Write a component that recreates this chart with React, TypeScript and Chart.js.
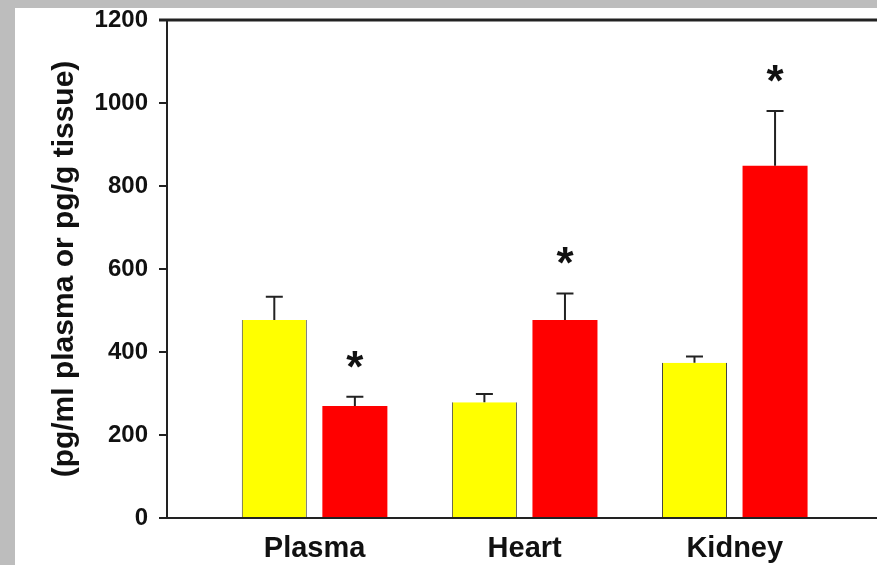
import React, { useEffect, useRef } from "react";
import { Chart, registerables } from "chart.js";

Chart.register(...registerables);

const categories = ["Plasma", "Heart", "Kidney"];
const controlValues = [477, 279, 374];
const controlErrors = [56, 20, 15];
const treatedValues = [270, 477, 849];
const treatedErrors = [22, 64, 132];
const significant = [true, true, true];
const yTitle = "(pg/ml plasma or pg/g tissue)";
const yMin = 0;
const yMax = 1200;
const yStep = 200;

const FONT = "'Liberation Sans', Arial, sans-serif";

const errorBarPlugin = {
  id: "errorBars",
  afterDatasetsDraw(chart: any) {
    const ctx = chart.ctx;
    const yScale = chart.scales.y;
    chart.data.datasets.forEach((ds: any, di: number) => {
      const meta = chart.getDatasetMeta(di);
      meta.data.forEach((bar: any, i: number) => {
        const v = ds.data[i].y;
        const e = ds.errors[i];
        const yCap = yScale.getPixelForValue(v + e);
        ctx.save();
        ctx.strokeStyle = "#222";
        ctx.lineWidth = 2;
        ctx.beginPath();
        ctx.moveTo(bar.x, bar.y);
        ctx.lineTo(bar.x, yCap);
        ctx.moveTo(bar.x - 8.5, yCap);
        ctx.lineTo(bar.x + 8.5, yCap);
        ctx.stroke();
        if (ds.stars && ds.stars[i]) {
          ctx.fillStyle = "#111";
          ctx.font = `bold 44px ${FONT}`;
          ctx.textAlign = "center";
          ctx.textBaseline = "alphabetic";
          ctx.fillText("*", bar.x, yCap - 40 + 25);
        }
        ctx.restore();
      });
    });
  },
  afterDraw(chart: any) {
    const { ctx, chartArea } = chart;
    ctx.save();
    ctx.strokeStyle = "#222";
    ctx.lineWidth = 3;
    ctx.beginPath();
    ctx.moveTo(chartArea.left - 8, chartArea.top);
    ctx.lineTo(chartArea.right, chartArea.top);
    ctx.stroke();
    ctx.restore();
  },
};

export default function App() {
  const canvasRef = useRef<HTMLCanvasElement>(null);

  useEffect(() => {
    document.body.style.margin = "0";
    const canvas = canvasRef.current;
    if (!canvas) return;
    const chart = new Chart(canvas, {
      type: "bar",
      data: {
        datasets: [
          {
            label: "Control",
            data: categories.map((c, i) => ({ x: i + 1, y: controlValues[i] })),
            errors: controlErrors,
            backgroundColor: "#ffff00",
            borderColor: "#444",
            borderWidth: { left: 1, right: 1, top: 0, bottom: 0 },
            borderSkipped: false,
          } as any,
          {
            label: "Treated",
            data: categories.map((c, i) => ({ x: i + 1, y: treatedValues[i] })),
            errors: treatedErrors,
            stars: significant,
            backgroundColor: "#ff0000",
            borderWidth: 0,
          } as any,
        ],
      },
      options: {
        responsive: false,
        animation: false,
        categoryPercentage: 0.767,
        barPercentage: 0.807,
        layout: { padding: { top: 20, left: 0, right: 0, bottom: 0 } },
        plugins: {
          legend: { display: false },
          tooltip: { enabled: false },
        },
        scales: {
          x: {
            type: "linear",
            offset: false,
            min: 0.2975,
            max: 3.677,
            afterBuildTicks: (scale: any) => {
              scale.ticks = categories.map((c, i) => ({ value: i + 1 }));
            },
            afterFit: (scale: any) => {
              scale.height = 47;
              scale.paddingLeft = 0;
              scale.paddingRight = 0;
            },
            grid: { display: false, drawTicks: false },
            border: { display: true, color: "#222", width: 2 },
            ticks: {
              padding: 14,
              color: "#111",
              font: { family: FONT, size: 29, weight: "bold" },
              callback: (v: any) => categories[Math.round(v) - 1] ?? "",
              maxRotation: 0,
              autoSkip: false,
            },
          },
          y: {
            min: yMin,
            max: yMax,
            afterFit: (scale: any) => {
              scale.width = 167;
              scale.paddingTop = 0;
              scale.paddingBottom = 0;
            },
            grid: {
              drawOnChartArea: false,
              drawTicks: true,
              tickLength: 8,
              color: "#222",
              lineWidth: 2,
            },
            border: { display: true, color: "#222", width: 2 },
            ticks: {
              stepSize: yStep,
              padding: 11,
              color: "#111",
              font: { family: FONT, size: 24, weight: "bold" },
              callback: (v: any) => String(v),
            },
            title: {
              display: true,
              text: yTitle,
              color: "#111",
              padding: { top: 47, bottom: 0 },
              font: { family: FONT, size: 30, weight: "bold" },
            },
          },
        },
      } as any,
      plugins: [errorBarPlugin],
    });
    return () => chart.destroy();
  }, []);

  return (
    <div style={{ position: "relative", width: 877, height: 565, background: "#bdbdbd", overflow: "hidden" }}>
      <div style={{ position: "absolute", left: 15, top: 8, right: 0, bottom: 0, background: "#ffffff" }} />
      <canvas
        ref={canvasRef}
        width={877}
        height={565}
        style={{ position: "absolute", left: 0, top: 0, display: "block" }}
      />
    </div>
  );
}
